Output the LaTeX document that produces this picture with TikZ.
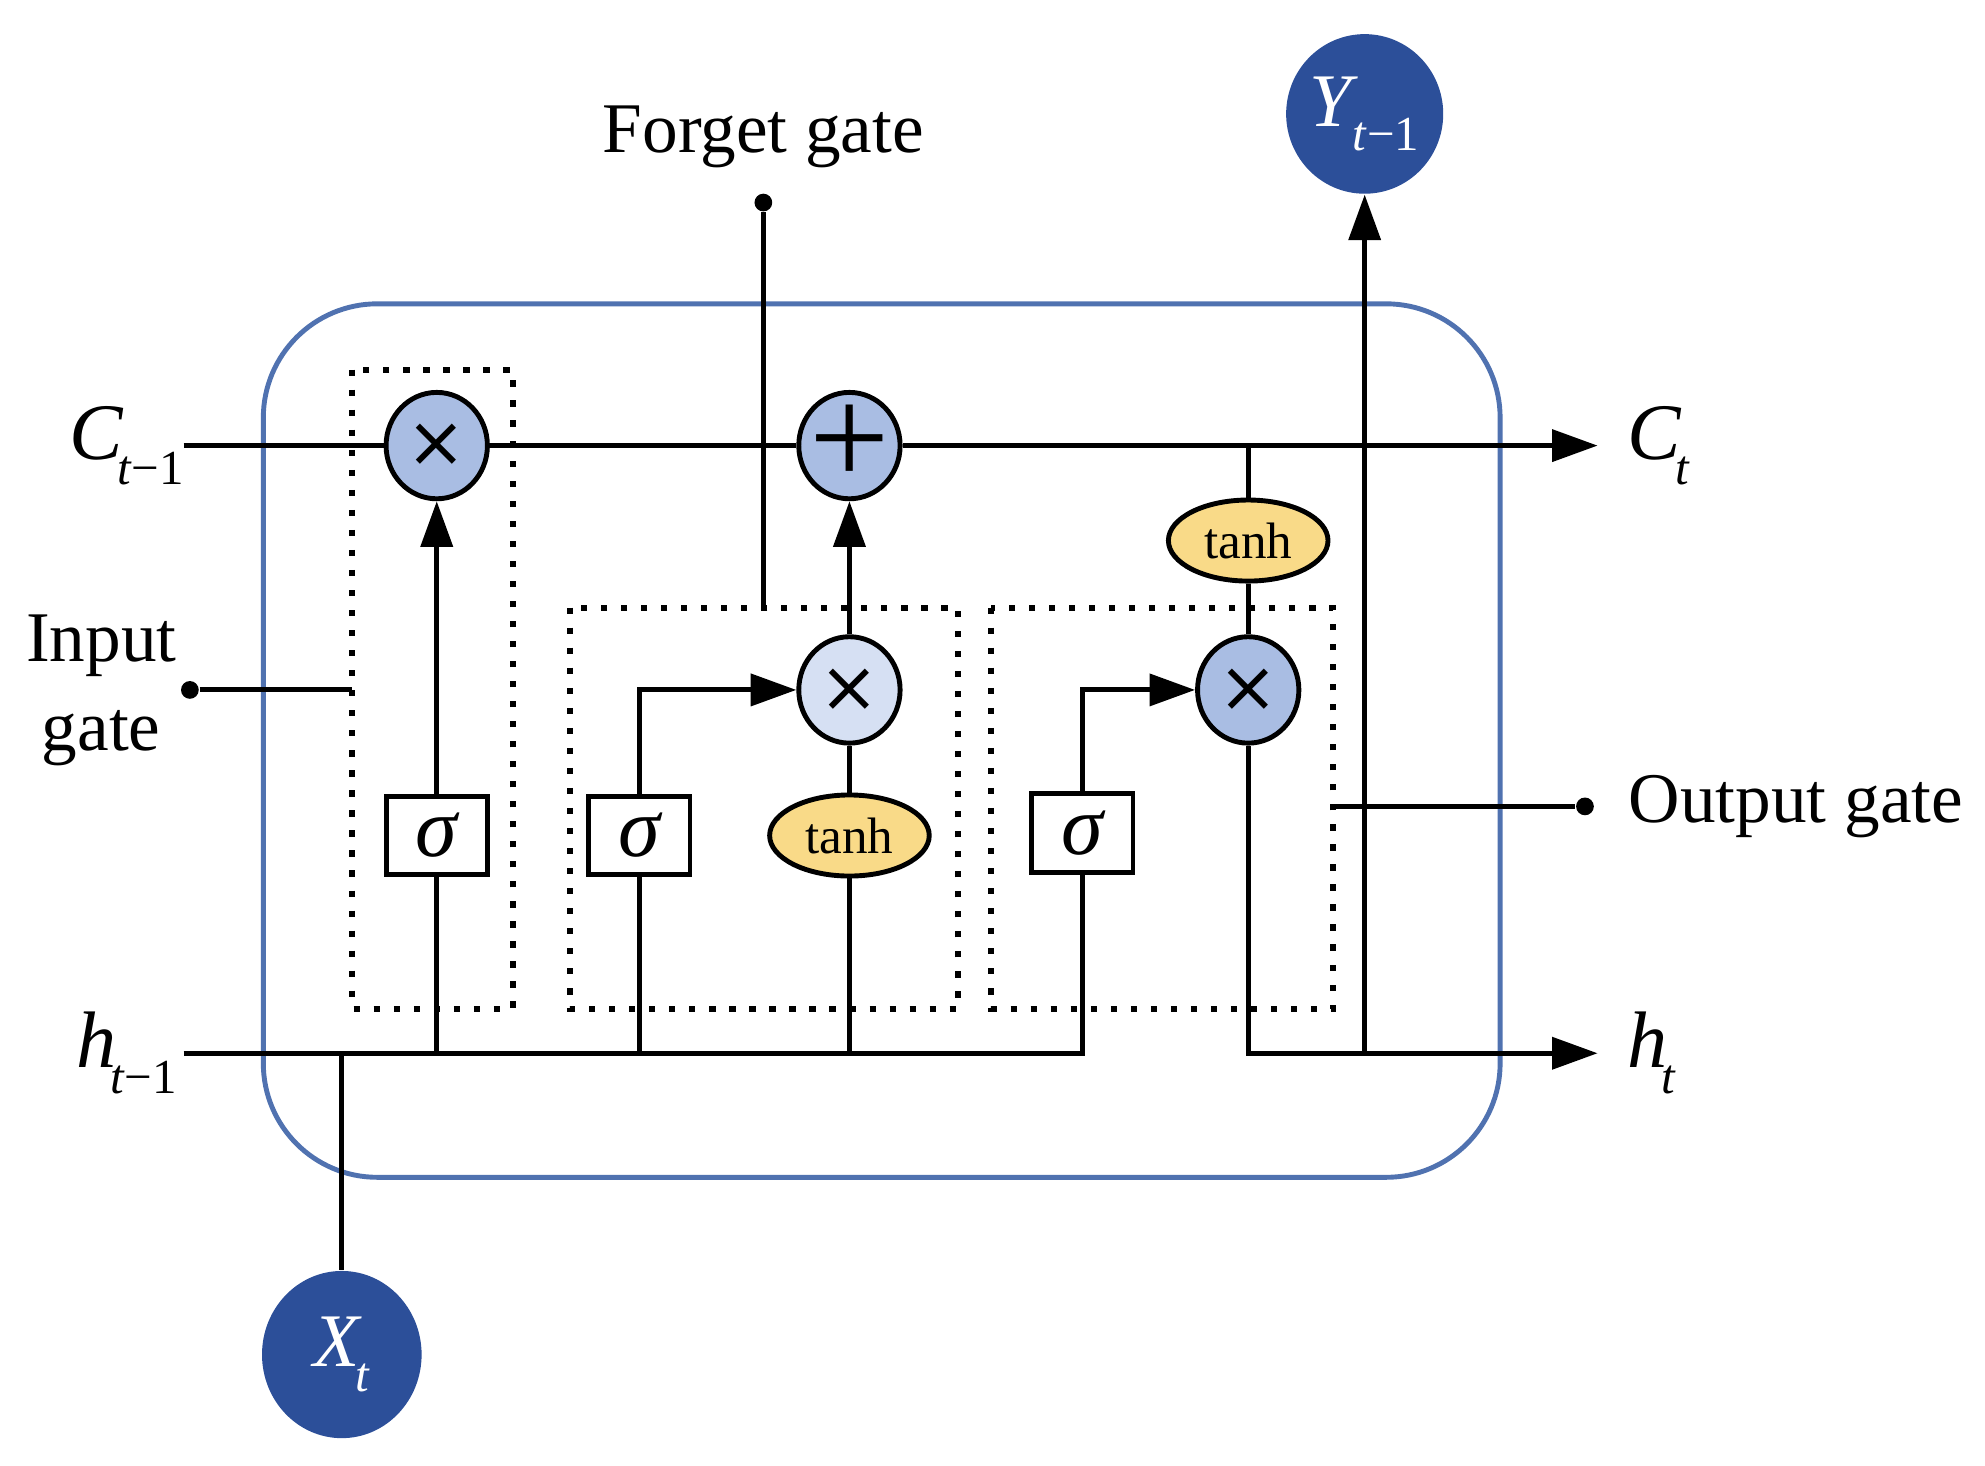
\documentclass[tikz,border=0pt]{standalone}
\usepackage{fontspec}
\setmainfont{Liberation Serif}
\newfontfamily\symfont{DejaVu Sans}
\usetikzlibrary{shapes.geometric,arrows.meta}
\definecolor{boxblue}{HTML}{5072B0}
\definecolor{darkblue}{HTML}{2C4F99}
\definecolor{multblue}{HTML}{A9BDE3}
\definecolor{lightblue}{HTML}{D6E0F3}
\definecolor{tanhyellow}{HTML}{F9DA88}
\newcommand{\varsub}[2]{\textit{#1}\kern-0.08em\raisebox{-0.7ex}{\fontsize{11}{11}\selectfont #2}}
\newcommand{\opglyph}[1]{\makebox[0pt]{\smash{\raisebox{\dimexpr(\depth-\height)/2\relax}{#1}}}}
\tikzset{
  conn/.style={line width=1.1pt, draw=black},
  arr/.style={conn, -{Triangle[length=3.6mm,width=2.5mm]}},
  mainbox/.style={draw=boxblue, line width=1.1pt, rounded corners=0.9cm},
  dotbox/.style={draw=black, line width=1.4pt, dash pattern=on 1.4pt off 3.1pt},
  multnode/.style={ellipse, draw, line width=1.1pt, fill=multblue, minimum width=0.80cm, minimum height=0.84cm, inner sep=0pt, font=\symfont\fontsize{16}{16}\selectfont},
  sigbox/.style={rectangle, draw, line width=1.1pt, fill=white, minimum width=0.80cm, minimum height=0.62cm, inner sep=0pt, font=\fontsize{19}{19}\selectfont\itshape},
  tanhnode/.style={ellipse, draw, line width=1.1pt, fill=tanhyellow, minimum width=1.26cm, minimum height=0.64cm, inner sep=0pt, font=\fontsize{11.5}{11.5}\selectfont},
  ionode/.style={ellipse, fill=darkblue, text=white, inner sep=0pt, font=\fontsize{17}{17}\selectfont},
  lbl/.style={font=\fontsize{16}{18}\selectfont, inner sep=0pt},
  mlbl/.style={font=\fontsize{18}{18}\selectfont, inner sep=0pt},
  dotnode/.style={circle, fill=black, minimum size=0.14cm, inner sep=0pt},
}
\begin{document}
\begin{tikzpicture}[x=0.01cm, y=-0.01cm]
\useasboundingbox (0,0) rectangle (1568,1158);
% main cell
\draw[mainbox] (208,240) rectangle (1185,930);
% dotted gate boxes
\draw[dotbox] (278,292) rectangle (405,797);
\draw[dotbox] (450,480) rectangle (757,797);
\draw[dotbox] (783,480) rectangle (1053,797);
% coordinates
\coordinate (cin) at (145,352);
\coordinate (cout) at (1262,352);
\coordinate (hin) at (145,832);
\coordinate (hout) at (1262,832);
\coordinate (fgtop) at (603,480);
\coordinate (igright) at (278,545);
\coordinate (ogleft) at (1053,637);
% operation nodes
\node[multnode] (mult1) at (345,352) {\opglyph{×}};
\node[multnode] (plus) at (671,352) {\opglyph{\fontspec{Liberation Serif}\fontsize{32}{32}\selectfont +}};
\node[multnode, fill=lightblue] (mult2) at (671,545) {\opglyph{×}};
\node[multnode] (mult3) at (986,545) {\opglyph{×}};
\node[tanhnode] (tanh2) at (671,660) {tanh};
\node[tanhnode] (tanh3) at (986,427) {tanh};
\node[sigbox] (sig1) at (345,660) {σ};
\node[sigbox] (sig2) at (505,660) {σ};
\node[sigbox] (sig3) at (855,658) {σ};
% in/out circles
\node[ionode, minimum width=1.24cm, minimum height=1.26cm] (Y) at (1078,90) {\varsub{Y}{\textit{t}−1}};
\node[ionode, minimum width=1.26cm, minimum height=1.32cm] (X) at (270,1070) {\varsub{X}{\textit{t}}};
% labels
\node[mlbl] (clbl) at (100,352) {\varsub{C}{\textit{t}−1}};
\node[mlbl] (hlbl) at (100,832) {\varsub{h}{\textit{t}−1}};
\node[mlbl, anchor=west] (ctlbl) at (1285,352) {\varsub{C}{\textit{t}}};
\node[mlbl, anchor=west] (htlbl) at (1285,832) {\varsub{h}{\textit{t}}};
\node[lbl] (fglbl) at (603,108) {Forget gate};
\node[lbl, align=center] (iglbl) at (80,545) {Input\\[2pt]gate};
\node[lbl, anchor=west] (oglbl) at (1286,637) {Output gate};
% gate dots
\node[dotnode] (fgdot) at (603,160) {};
\node[dotnode] (igdot) at (150,545) {};
\node[dotnode] (ogdot) at (1252,637) {};
\draw[conn] (fgdot) -- (fgtop);
\draw[conn] (igdot) -- (igright);
\draw[conn] (ogleft) -- (ogdot);
% cell state line
\draw[conn] (cin) -- (mult1);
\draw[conn] (mult1) -- (plus);
\draw[arr] (plus) -- (cout);
% hidden state line
\draw[conn] (hin) -| (sig3.south);
\draw[conn] (X.north) -- (X |- hin);
% input gate
\draw[conn] (sig1 |- hin) -- (sig1.south);
\draw[arr] (sig1.north) -- (mult1.south);
% forget/candidate
\draw[conn] (sig2 |- hin) -- (sig2.south);
\draw[arr] (sig2.north) |- (mult2.west);
\draw[conn] (tanh2 |- hin) -- (tanh2.south);
\draw[conn] (tanh2.north) -- (mult2.south);
\draw[arr] (mult2.north) -- (plus.south);
% output gate
\draw[arr] (sig3.north) |- (mult3.west);
\draw[conn] (tanh3 |- cin) -- (tanh3.north);
\draw[conn] (tanh3.south) -- (mult3.north);
\draw[arr] (mult3.south) |- (hout);
\draw[arr] (Y |- hout) -- (Y.south);
\end{tikzpicture}
\end{document}
